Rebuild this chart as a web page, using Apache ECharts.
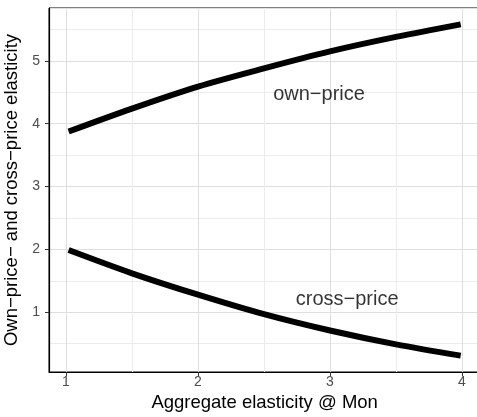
<!DOCTYPE html>
<html>
<head>
<meta charset="utf-8">
<script src="https://cdn.jsdelivr.net/npm/echarts@6/dist/echarts.min.js"></script>
<style>
html,body{margin:0;padding:0;background:#fff;}
#chart{width:477px;height:417px;}
</style>
</head>
<body>
<div id="chart"></div>
<script>
// Data
const xValues = [1.02, 1.5, 2, 2.5, 3, 3.5, 3.99];
const ownPrice = [3.875, 4.24, 4.59, 4.88, 5.15, 5.38, 5.58];
const crossPrice = [1.99, 1.62, 1.28, 0.97, 0.71, 0.49, 0.31];
const xTicks = [1, 2, 3, 4];
const yTicks = [1, 2, 3, 4, 5];
const labelNames = ['own\u2212price', 'cross\u2212price'];
const labelX = [2.917, 3.13];
const labelY = [4.47, 1.21];

const chart = echarts.init(document.getElementById('chart'), null, {renderer: 'canvas'});
const font = '"Liberation Sans", Arial, Helvetica, sans-serif';
const X_MIN = 0.8715, X_MAX = 4.1385, Y_MIN = 0.05, Y_MAX = 5.84;

const option = {
  animation: false,
  backgroundColor: '#fff',
  grid: {
    left: 49, top: 8, width: 431.3, bottom: 45,
    containLabel: false, outerBoundsMode: 'none',
    show: true, borderColor: '#000', borderWidth: 1, backgroundColor: 'transparent'
  },
  xAxis: [
    {
      type: 'value', min: X_MIN, max: X_MAX,
      name: 'Aggregate elasticity @ Mon',
      nameLocation: 'middle', nameGap: 17,
      nameTextStyle: {fontFamily: font, fontSize: 18.5, color: '#000'},
      axisLine: {show: true, onZero: false, lineStyle: {color: '#000', width: 1.2}},
      axisTick: {show: true, length: 4, customValues: xTicks, lineStyle: {color: '#333'}},
      axisLabel: {show: true, customValues: xTicks, margin: 3, fontFamily: font, fontSize: 14, color: '#4d4d4d'},
      splitLine: {show: false}
    },
    {
      type: 'value', min: X_MIN, max: X_MAX, splitNumber: 6, position: 'bottom',
      axisLine: {show: false}, axisTick: {show: false}, axisLabel: {show: false},
      splitLine: {show: true, lineStyle: {color: ['#ececec', '#dedede'], width: 1}}
    }
  ],
  yAxis: [
    {
      type: 'value', min: Y_MIN, max: Y_MAX,
      name: 'Own\u2212price\u2212 and cross\u2212price elasticity',
      nameLocation: 'middle', nameGap: 21,
      nameTextStyle: {fontFamily: font, fontSize: 18.5, color: '#000'},
      axisLine: {show: true, onZero: false, lineStyle: {color: '#000', width: 1.2}},
      axisTick: {show: true, length: 4, customValues: yTicks, lineStyle: {color: '#333'}},
      axisLabel: {show: true, customValues: yTicks, margin: 9, fontFamily: font, fontSize: 14, color: '#4d4d4d'},
      splitLine: {show: false}
    },
    {
      type: 'value', min: Y_MIN, max: Y_MAX, splitNumber: 11, position: 'left',
      axisLine: {show: false}, axisTick: {show: false}, axisLabel: {show: false},
      splitLine: {show: true, lineStyle: {color: ['#dedede', '#ececec'], width: 1}}
    }
  ],
  series: [
    {
      type: 'line', name: 'own-price',
      data: xValues.map((x, i) => [x, ownPrice[i]]),
      smooth: 0.3, showSymbol: false, symbol: 'none',
      lineStyle: {color: '#000', width: 6, cap: 'butt'}
    },
    {
      type: 'line', name: 'cross-price',
      data: xValues.map((x, i) => [x, crossPrice[i]]),
      smooth: 0.3, showSymbol: false, symbol: 'none',
      lineStyle: {color: '#000', width: 6, cap: 'butt'}
    },
    {
      type: 'scatter',
      symbolSize: 0,
      data: labelNames.map((n, i) => ({name: n, value: [labelX[i], labelY[i]]})),
      label: {
        show: true, position: 'inside', formatter: p => p.name,
        fontFamily: font, fontSize: 20, color: '#000',
        align: 'center', verticalAlign: 'middle'
      },
      silent: true
    }
  ]
};
chart.setOption(option);
</script>
</body>
</html>
